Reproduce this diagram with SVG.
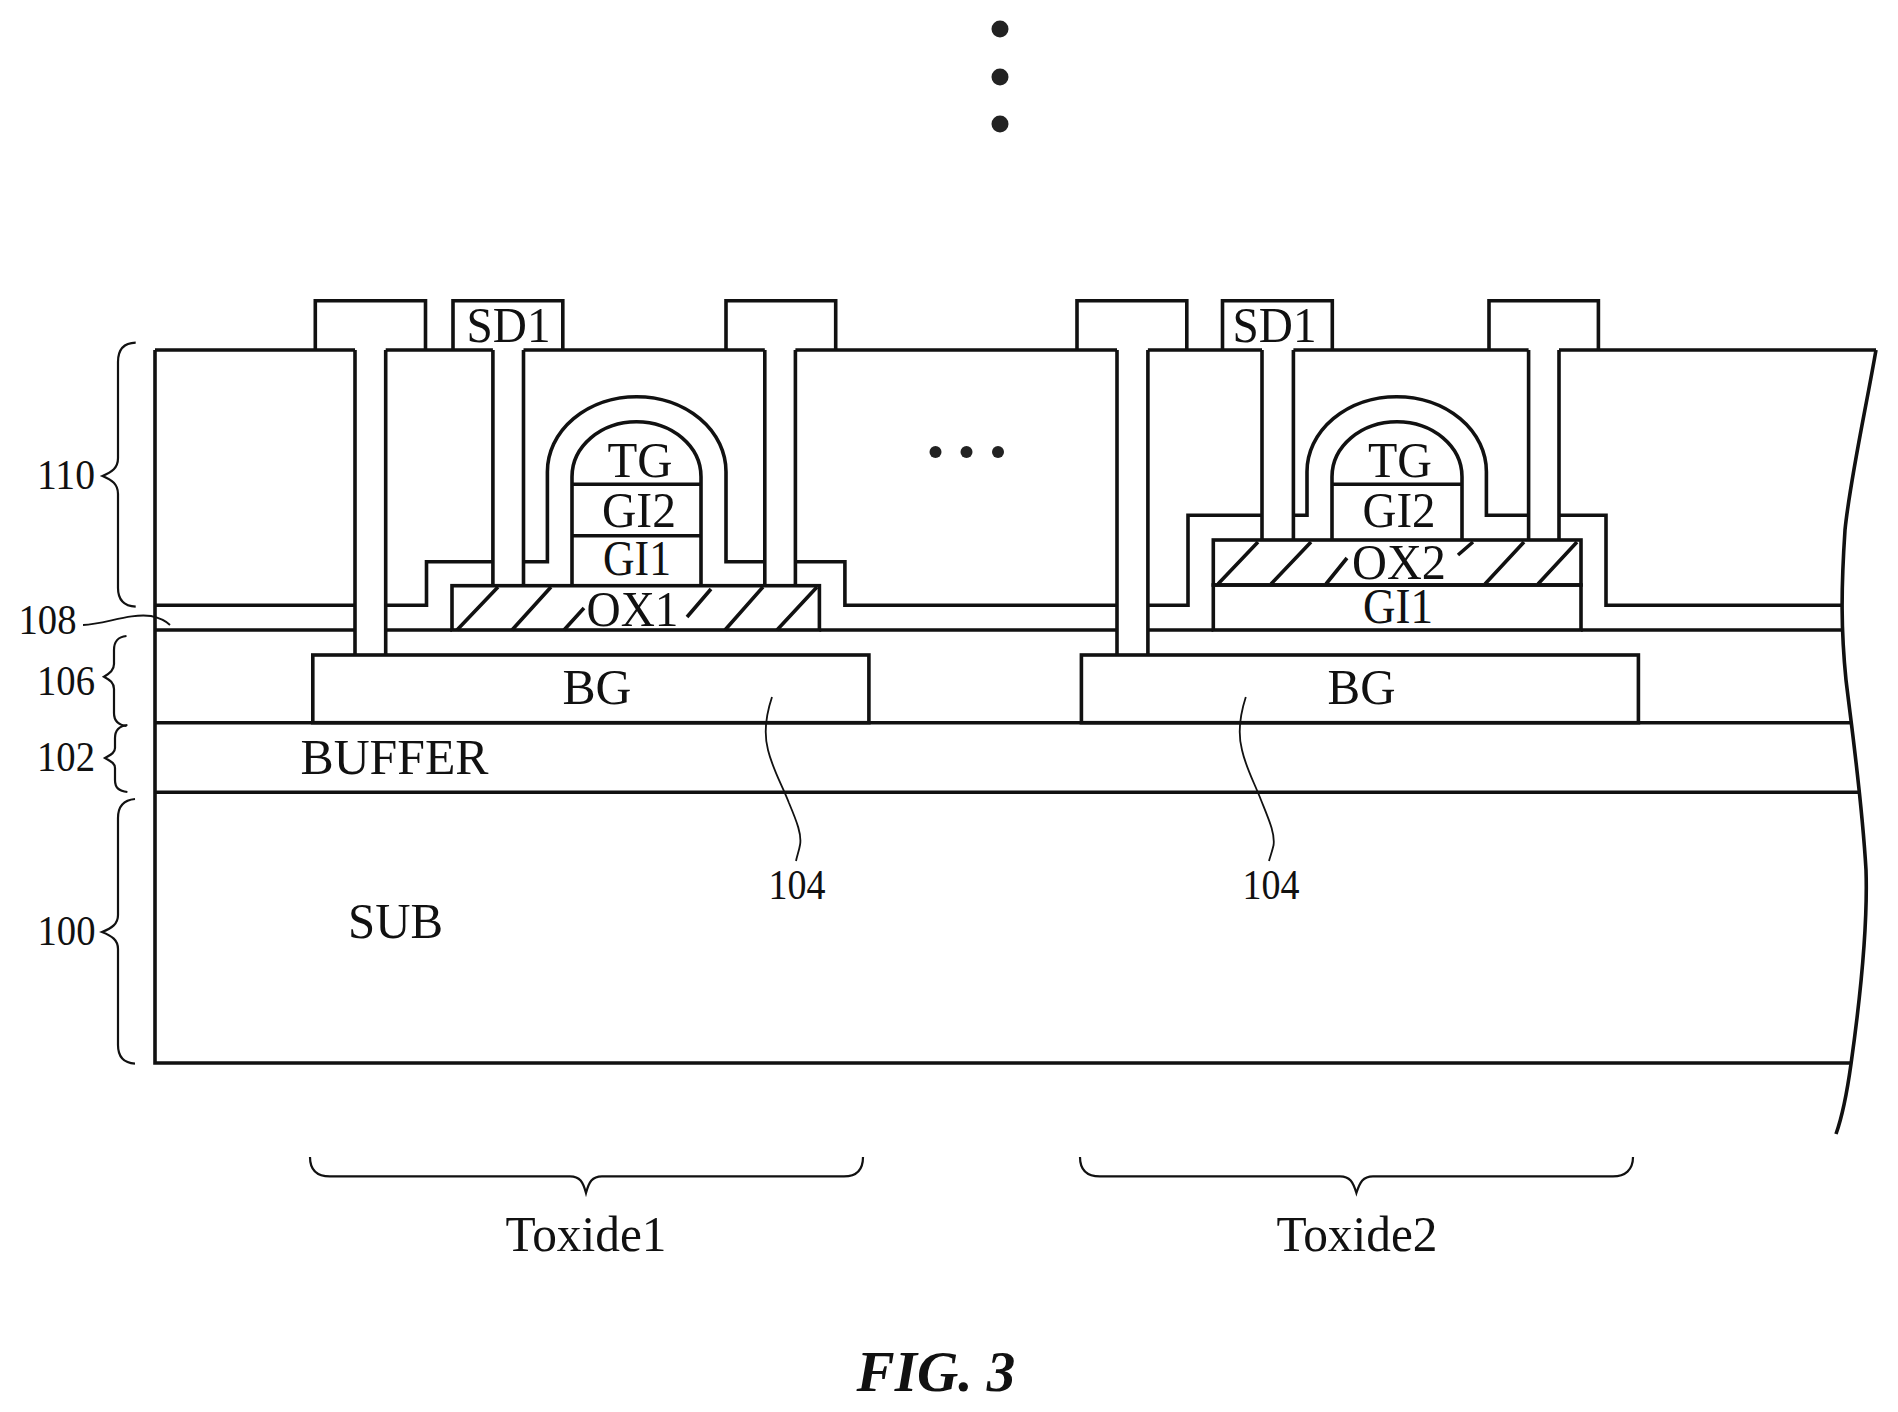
<svg xmlns="http://www.w3.org/2000/svg" width="1898" height="1412" viewBox="0 0 1898 1412">
<style>
.l{fill:none;stroke:#111;stroke-width:3.6}
.t{fill:none;stroke:#111;stroke-width:2.2}
.b{fill:none;stroke:#111;stroke-width:1.8}
text{font-family:"Liberation Serif","Times New Roman",serif;fill:#111;text-anchor:middle}
.s{font-size:50px}
.m{font-size:43px}
.c{font-size:50px}
.f{font-size:58px;font-weight:bold;font-style:italic}
.d{fill:#222}
</style>
<rect width="1898" height="1412" fill="#fff"/>
<g id="dots">
<circle class="d" cx="1006" cy="29" r="8.500" transform="translate(-6 0)"/><circle class="d" cx="1006" cy="77" r="8.500" transform="translate(-6 0)"/><circle class="d" cx="1006" cy="124" r="8.500" transform="translate(-6 0)"/>
<circle class="d" cx="935.500" cy="452" r="6"/><circle class="d" cx="966.500" cy="452" r="6"/><circle class="d" cx="998" cy="452" r="6"/>
</g>
<g id="substrate">
<path class="l" d="M155 350V1063H1851.600"/>
<path class="l" d="M155 792.300H1861"/>
<path class="l" d="M155 722.700H1851"/>
<path class="l" d="M1876 350C1866 408 1850 480 1845 530C1841 590 1841 630 1846 680C1852 730 1862 800 1866 870C1868 930 1860 1000 1851 1064C1846 1100 1841 1120 1836 1134"/>
<path class="l" d="M155 350H355M385.700 350H492.900M523.500 350H764.800M795.400 350H1117M1147.900 350H1262M1293.400 350H1528.600M1559 350H1876"/>
<path class="l" d="M155 630H355M385.700 630H452M819.400 630H1117M1147.900 630H1213.300M1581 630H1842"/>
<path class="l" d="M155 605.300H355M385.700 605.300H426.500V561.700H492.900M523.500 561.700H547.400V471.700A89.300 75 0 0 1 726 471.700V561.700H764.800M795.400 561.700H844.900V605.300H1117"/>
<path class="l" d="M1147.900 605.300H1188V515.300H1262M1293.400 515.300H1307V471.700A89.700 75 0 0 1 1486.400 471.700V515.300H1528.600M1559 515.300H1606V605.300H1842"/>
</g>
<g id="stack1">
<path class="l" d="M315.300 350V300.700H425.500V350"/>
<path class="l" d="M453 350V300.700H562.800V350"/>
<path class="l" d="M726 350V300.700H835.700V350"/>
<path class="l" d="M355 350V655M385.700 350V655"/>
<path class="l" d="M492.900 350V585.700M523.500 350V585.700"/>
<path class="l" d="M764.800 350V585.700M795.400 350V585.700"/>
<rect class="l" x="312.800" y="655" width="556.100" height="67.700"/>
<rect class="l" x="452" y="585.700" width="367.400" height="44.300"/>
<path class="l" d="M572 585.700V476.700A64.500 55 0 0 1 701 476.700V585.700"/>
<path class="l" d="M572 484.300H701M572 535.700H701"/>
<path class="l" d="M457 630L498 587M512 630L551 587M564 630L584 608M687 617L711 589M725 630L763 587M777 630L817 587"/>
<text class="c" x="508.500" y="341.700" textLength="84" lengthAdjust="spacingAndGlyphs">SD1</text>
<text class="s" x="640" y="476.700" textLength="65" lengthAdjust="spacingAndGlyphs">TG</text>
<text class="s" x="639" y="526.700" textLength="74" lengthAdjust="spacingAndGlyphs">GI2</text>
<text class="s" x="637" y="575" textLength="68" lengthAdjust="spacingAndGlyphs">GI1</text>
<text class="s" x="632.500" y="625.700" textLength="92" lengthAdjust="spacingAndGlyphs">OX1</text>
<text class="s" x="597" y="704" textLength="69" lengthAdjust="spacingAndGlyphs">BG</text>
</g>
<g id="stack2">
<path class="l" d="M1077 350V300.700H1186.800V350"/>
<path class="l" d="M1222.500 350V300.700H1332.300V350"/>
<path class="l" d="M1489 350V300.700H1598.400V350"/>
<path class="l" d="M1117 350V655M1147.900 350V655"/>
<path class="l" d="M1262 350V540M1293.400 350V540"/>
<path class="l" d="M1528.600 350V540M1559 350V540"/>
<rect class="l" x="1081.400" y="655" width="557" height="67.700"/>
<rect class="l" x="1213.300" y="540" width="367.700" height="45"/>
<rect class="l" x="1213.300" y="585" width="367.700" height="45"/>
<path class="l" d="M1332 540V476.700A65 55 0 0 1 1462 476.700V540"/>
<path class="l" d="M1332 484.300H1462"/>
<path class="l" d="M1218 584L1258 542M1271 584L1311 542M1326 584L1347 558M1458 555L1473 542M1485 584L1524 542M1538 584L1577 542"/>
<text class="c" x="1274.500" y="341.700" textLength="84" lengthAdjust="spacingAndGlyphs">SD1</text>
<text class="s" x="1400" y="476.700" textLength="64" lengthAdjust="spacingAndGlyphs">TG</text>
<text class="s" x="1399" y="526.700" textLength="73" lengthAdjust="spacingAndGlyphs">GI2</text>
<text class="s" x="1399" y="579" textLength="94" lengthAdjust="spacingAndGlyphs">OX2</text>
<text class="s" x="1398" y="623" textLength="70" lengthAdjust="spacingAndGlyphs">GI1</text>
<text class="s" x="1361.500" y="704" textLength="68" lengthAdjust="spacingAndGlyphs">BG</text>
</g>
<g id="layers">
<path class="t" d="M135.700 342.700C124 343 118 350 118 362V458C118 468 112 472 102.500 476C112 480 118 484 118 494V588C118 600 124 606 135.700 606.700"/>
<path class="t" d="M126.500 636C118 637 114 641 114 650V664C114 670 110 673 104 676.700C110 680 114 683 114 689V713C114 721 118 725 126.500 726"/>
<path class="t" d="M127.400 725C119 726 115 730 115 738V748C115 753 110 755 105 758C110 761 115 763 115 768V780C115 788 119 791 127.400 792"/>
<path class="t" d="M135 799C124 800 118 806 118 818V915C118 924 112 928 102 932C112 936 118 940 118 949V1045C118 1057 124 1063 135 1063.600"/>
<path class="t" d="M310 1157C310 1170 317 1176.400 330 1176.400H570C580 1176.400 583 1182 586 1193C589 1182 592 1176.400 602 1176.400H844C856 1176.400 863 1170 863 1157"/>
<path class="t" d="M1080 1157C1080 1170 1087 1176.400 1100 1176.400H1340C1350 1176.400 1353 1182 1356.400 1193C1360 1182 1363 1176.400 1373 1176.400H1613C1625 1176.400 1633 1170 1633 1157"/>
<path class="b" d="M83 625C105 624 130 613 151 616C160 618 166 621 170 625"/>
<path class="b" d="M772 697C766 715 764 735 768 750C773 770 782 785 789 803C797 822 802 835 800 845C799 851 797 856 796 861"/>
<path class="b" d="M1245.800 697C1240 715 1238 735 1242 750C1246 768 1254 782 1261 800C1269 820 1275 833 1273.600 845C1272 852 1270 857 1269 861"/>
<text class="m" x="66" y="489" textLength="58" lengthAdjust="spacingAndGlyphs">110</text>
<text class="m" x="47.500" y="634" textLength="58" lengthAdjust="spacingAndGlyphs">108</text>
<text class="m" x="66" y="695" textLength="58" lengthAdjust="spacingAndGlyphs">106</text>
<text class="m" x="66" y="771" textLength="58" lengthAdjust="spacingAndGlyphs">102</text>
<text class="m" x="66.500" y="945" textLength="58" lengthAdjust="spacingAndGlyphs">100</text>
<text class="m" x="797" y="899" textLength="57" lengthAdjust="spacingAndGlyphs">104</text>
<text class="m" x="1271" y="899" textLength="57" lengthAdjust="spacingAndGlyphs">104</text>
<text class="s" x="394.500" y="773.600" textLength="188" lengthAdjust="spacingAndGlyphs">BUFFER</text>
<text class="s" x="395.500" y="938" textLength="95" lengthAdjust="spacingAndGlyphs">SUB</text>
<text class="c" x="586" y="1251" textLength="161" lengthAdjust="spacingAndGlyphs">Toxide1</text>
<text class="c" x="1357" y="1251" textLength="161" lengthAdjust="spacingAndGlyphs">Toxide2</text>
<text class="f" x="942" y="1391" textLength="159" lengthAdjust="spacingAndGlyphs" transform="translate(-6 0)">FIG. 3</text>
</g>
</svg>
